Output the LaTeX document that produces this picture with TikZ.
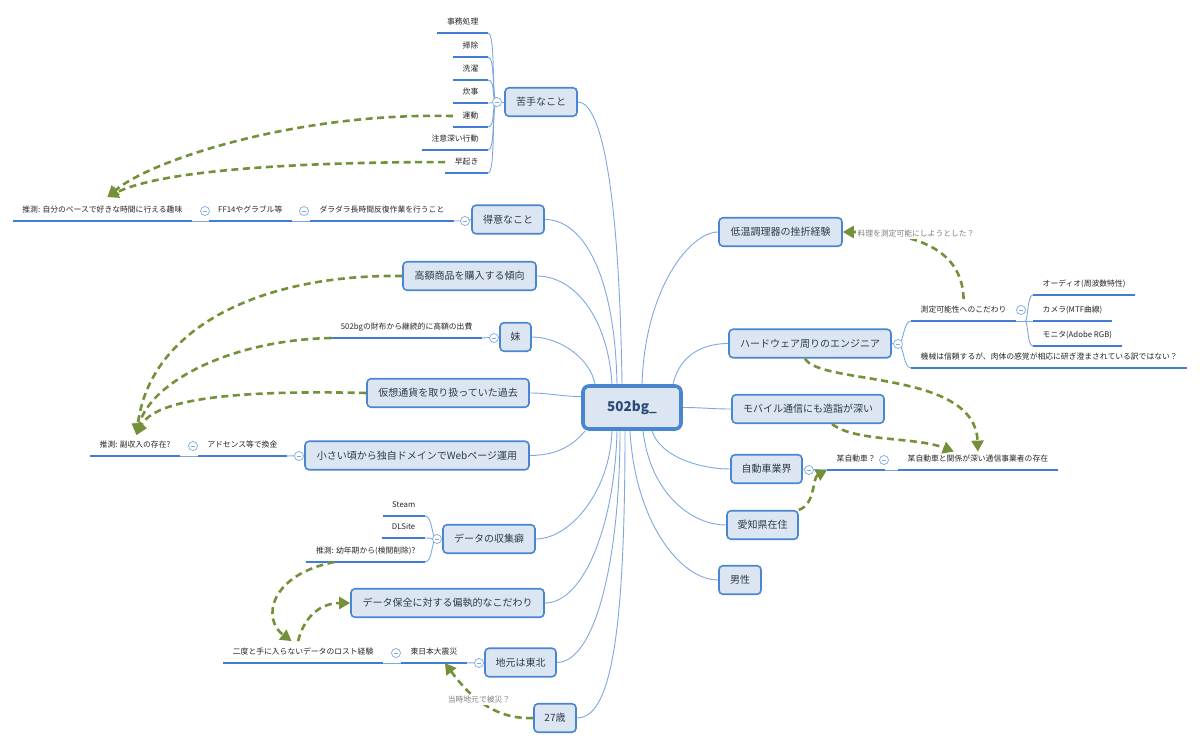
\documentclass[tikz,border=0pt]{standalone}
\usepackage{fontspec}
\setmainfont{Noto Sans CJK JP}
\usetikzlibrary{arrows.meta,backgrounds,calc}
\definecolor{boxfill}{HTML}{DCE6F2}
\definecolor{boxline}{HTML}{4A86CF}
\definecolor{connc}{HTML}{7DA9E0}
\definecolor{ulc}{HTML}{3F7ED4}
\definecolor{relc}{HTML}{74913A}
\definecolor{topictext}{HTML}{2E3B4E}
\definecolor{subtext}{HTML}{262626}
\definecolor{notetext}{HTML}{7F7F7F}
\definecolor{centertext}{HTML}{2A4A78}
\begin{document}
\begin{tikzpicture}[x=1pt,y=-1pt,
  topic/.style={draw=boxline, line width=1.6pt, fill=boxfill, rounded corners=4pt, minimum height=28.5pt, inner sep=2pt, text=topictext, font=\fontsize{10}{12}\selectfont},
  centre/.style={draw=boxline, line width=3.6pt, fill=boxfill, rounded corners=6pt, minimum width=98pt, minimum height=43pt, text=centertext, font=\fontsize{13.5}{16}\selectfont\bfseries},
  sub/.style={inner xsep=9.5pt, inner ysep=7pt, text height=6pt, text depth=1.5pt, text=subtext, font=\fontsize{7.8}{9}\selectfont},
  ul/.style={draw=ulc, line width=2.6pt},
  conn/.style={draw=connc, line width=0.9pt},
  collapse/.style={circle, draw=connc, fill=white, line width=0.7pt, minimum size=9pt, inner sep=0pt,
    path picture={\draw[connc, line width=0.7pt] ([xshift=-2.3pt]path picture bounding box.center) -- ([xshift=2.3pt]path picture bounding box.center);}},
  rel/.style={draw=relc, line width=2.6pt, dash pattern=on 7pt off 4.5pt, -{Triangle[length=11pt,width=12pt]}},
  note/.style={fill=white, inner sep=1.5pt, text=notetext, font=\fontsize{7.8}{9}\selectfont}
]
\useasboundingbox (0,0) rectangle (1200,749);
\begin{scope}[on background layer]
  \fill[white] (0,0) rectangle (1200,749);
\end{scope}

% central topic
\node[centre] (root) at (632,407.5) {502bg\_};

% main topics
\node[topic, minimum width=72pt] (nigate) at (541,102) {苦手なこと};
\node[topic, minimum width=72pt] (tokui) at (508,219.5) {得意なこと};
\node[topic, minimum width=133pt] (kougaku) at (469.5,276) {高額商品を購入する傾向};
\node[topic, minimum width=31pt] (imouto) at (515.5,337) {妹};
\node[topic, minimum width=162pt] (kasou) at (448,393) {仮想通貨を取り扱っていた過去};
\node[topic, minimum width=224pt] (webpage) at (417,455.5) {小さい頃から独自ドメインでWebページ運用};
\node[topic, minimum width=92pt] (shushu) at (489,539) {データの収集癖};
\node[topic, minimum width=193pt] (hozen) at (447.5,603) {データ保全に対する偏執的なこだわり};
\node[topic, minimum width=71pt] (jimoto) at (520.5,662.5) {地元は東北};
\node[topic, minimum width=42pt] (age) at (555,718) {27歳};
\node[topic, minimum width=123pt] (teion) at (780.5,232) {低温調理器の挫折経験};
\node[topic, minimum width=162pt] (hard) at (810,343.5) {ハードウェア周りのエンジニア};
\node[topic, minimum width=152pt] (mobile) at (808,409) {モバイル通信にも造詣が深い};
\node[topic, minimum width=71pt] (jidousha) at (766.5,469) {自動車業界};
\node[topic, minimum width=71pt] (aichi) at (762.5,525) {愛知県在住};
\node[topic, minimum width=42pt] (dansei) at (740,580) {男性};

% subtopics
\node[sub, anchor=south east] (jimu) at (488,33) {事務処理};
\node[sub, anchor=south east] (souji) at (488,57) {掃除};
\node[sub, anchor=south east] (sentaku) at (488,80) {洗濯};
\node[sub, anchor=south east] (suiji) at (488,103) {炊事};
\node[sub, anchor=south east] (undou) at (488,127) {運動};
\node[sub, anchor=south east] (chui) at (488,150) {注意深い行動};
\node[sub, anchor=south east] (hayaoki) at (488,173) {早起き};
\node[sub, anchor=south east] (darada) at (454,221) {ダラダラ長時間反復作業を行うこと};
\node[sub, anchor=south east] (ff) at (292,221) {FF14やグラブル等};
\node[sub, anchor=south east] (jibun) at (192,221) {推測: 自分のペースで好きな時間に行える趣味};
\node[sub, anchor=south east] (saifu) at (482,338) {502bgの財布から継続的に高額の出費};
\node[sub, anchor=south east] (adsense) at (287,456) {アドセンス等で換金};
\node[sub, anchor=south east] (fukushu) at (180,456) {推測: 副収入の存在?};
\node[sub, anchor=south east] (steam) at (425,516) {Steam};
\node[sub, anchor=south east] (dlsite) at (425,538) {DLSite};
\node[sub, anchor=south east] (youshou) at (425,562) {推測: 幼年期から(検閲削除)?};
\node[sub, anchor=south east] (shinsai) at (467,663) {東日本大震災};
\node[sub, anchor=south east] (lost) at (383,663) {二度と手に入らないデータのロスト経験};
\node[sub, anchor=south west] (sokutei) at (911,321) {測定可能性へのこだわり};
\node[sub, anchor=south west] (kikai) at (911,368) {機械は信頼するが、肉体の感覚が相応に研ぎ澄まされている訳ではない？};
\node[sub, anchor=south west] (audio) at (1033,295) {オーディオ(周波数特性)};
\node[sub, anchor=south west] (camera) at (1033,321) {カメラ(MTF曲線)};
\node[sub, anchor=south west] (monitor) at (1033,346) {モニタ(Adobe RGB)};
\node[sub, anchor=south west] (bouji) at (827,470) {某自動車？};
\node[sub, anchor=south west] (tsushin) at (898,470) {某自動車と関係が深い通信事業者の存在};

\foreach \n in {jimu,souji,sentaku,suiji,undou,chui,hayaoki,darada,ff,jibun,saifu,adsense,fukushu,steam,dlsite,youshou,shinsai,lost,sokutei,kikai,audio,camera,monitor,bouji,tsushin}
  \draw[ul] (\n.south west) -- (\n.south east);

% collapse buttons
\node[collapse] (k1) at (497,102) {};
\node[collapse] (k2) at (465,221) {};
\node[collapse] (k3) at (304,211) {};
\node[collapse] (k4) at (205,211) {};
\node[collapse] (k5) at (494,338) {};
\node[collapse] (k6) at (299,456) {};
\node[collapse] (k7) at (193,446) {};
\node[collapse] (k8) at (437,539) {};
\node[collapse] (k9) at (479,663) {};
\node[collapse] (k10) at (396,653) {};
\node[collapse] (k11) at (898,344) {};
\node[collapse] (k12) at (1021,310) {};
\node[collapse] (k13) at (809,470) {};
\node[collapse] (k14) at (884,460) {};
\coordinate (sk) at ([xshift=9pt]sokutei.south east);

% connectors
\begin{scope}[on background layer]
  % root to main topics
  \draw[conn] ([xshift=-10pt]root.north) .. controls +(-3,-206) and +(22,0) .. (nigate.east);
  \draw[conn] ([xshift=-15pt]root.north) .. controls +(-2,-106) and +(40,0) .. (tokui.east);
  \draw[conn] ([xshift=-20pt]root.north) .. controls +(-4,-66) and +(38,0) .. (kougaku.east);
  \draw[conn] ([xshift=-37pt]root.north) .. controls +(-5,-26) and +(28,0) .. (imouto.east);
  \draw[conn] ([yshift=11pt]root.west) .. controls +(-20,0) and +(20,0) .. (kasou.east);
  \draw[conn] ([xshift=4pt]root.south west) .. controls +(-10,12) and +(30,0) .. (webpage.east);
  \draw[conn] ([xshift=-20pt]root.south) .. controls +(-2,61) and +(34,0) .. (shushu.east);
  \draw[conn] ([xshift=-15pt]root.south) .. controls +(-2,91) and +(40,0) .. (hozen.east);
  \draw[conn] ([xshift=-12pt]root.south) .. controls +(0,131) and +(38,0) .. (jimoto.east);
  \draw[conn] ([xshift=-7pt]root.south) .. controls +(0,211) and +(33,0) .. (age.east);
  \draw[conn] ([xshift=10pt]root.north) .. controls +(3,-96) and +(-28,0) .. (teion.west);
  \draw[conn] ([xshift=41pt]root.north) .. controls +(7,-31) and +(-23,0) .. (hard.west);
  \draw[conn] (root.east) .. controls +(20,0) and +(-20,0) .. (mobile.west);
  \draw[conn] ([xshift=20pt]root.south) .. controls +(8,26) and +(-30,0) .. (jidousha.west);
  \draw[conn] ([xshift=11pt]root.south) .. controls +(7,61) and +(-36,0) .. (aichi.west);
  \draw[conn] ([xshift=-2pt]root.south) .. controls +(5,91) and +(-38,0) .. (dansei.west);
  % 苦手なこと
  \draw[conn] (nigate.west) -- (k1.center);
  \foreach \n in {jimu,souji,sentaku,suiji,undou,chui,hayaoki}
    \draw[conn] (k1.center) .. controls +(-6,0) and +(8,0) .. (\n.south east);
  % 得意なこと chain
  \draw[conn] (tokui.west) -- (k2.center) -- (darada.south east);
  \draw[conn] (darada.south west) -- (ff.south east);
  \draw[conn] (ff.south west) -- (jibun.south east);
  % 妹
  \draw[conn] (imouto.west) -- (saifu.south east);
  % web
  \draw[conn] (webpage.west) -- (adsense.south east);
  \draw[conn] (adsense.south west) -- (fukushu.south east);
  % 収集癖
  \draw[conn] (shushu.west) -- (k8.center);
  \foreach \n in {steam,dlsite,youshou}
    \draw[conn] (k8.center) .. controls +(-6,0) and +(8,0) .. (\n.south east);
  % 地元
  \draw[conn] (jimoto.west) -- (shinsai.south east);
  \draw[conn] (shinsai.south west) -- (lost.south east);
  % ハードウェア
  \draw[conn] (hard.east) -- (k11.center);
  \foreach \n in {sokutei,kikai}
    \draw[conn] (k11.center) .. controls +(6,0) and +(-8,0) .. (\n.south west);
  \draw[conn] (sokutei.south east) -- (camera.south west);
  \foreach \n in {audio,monitor}
    \draw[conn] (sk) .. controls +(3,0) and +(-6,0) .. (\n.south west);
  % 自動車
  \draw[conn] (jidousha.east) -- (bouji.south west);
  \draw[conn] (bouji.south east) -- (tsushin.south west);
\end{scope}

% relationships
\draw[rel] (undou.west) .. controls +(-153,-4) and +(45,-38) .. ([xshift=5pt,yshift=2pt]jibun.north);
\draw[rel] (hayaoki.west) .. controls +(-115,0) and +(60,-30) .. ([xshift=5pt,yshift=2pt]jibun.north);
\draw[rel] (kougaku.west) .. controls +(-142,-2) and +(13,-107) .. ([xshift=1.5pt,yshift=-1pt]fukushu.north);
\draw[rel] (saifu.south west) .. controls +(-102,2) and +(13,-52) .. ([xshift=1.5pt,yshift=-1pt]fukushu.north);
\draw[rel] (kasou.west) .. controls +(-127,-3) and +(18,-37) .. ([xshift=1.5pt,yshift=-1pt]fukushu.north);
\draw[rel] ([xshift=28pt]youshou.south west) .. controls +(-65,13) and +(-30,-22) .. ([xshift=-11.5pt]lost.north);
\draw[rel] ([xshift=-5pt]lost.north) .. controls +(6.5,-26.5) and +(-28,0) .. (hozen.west);
\draw[rel] (age.west) .. controls +(-43,2) and +(20,27) .. ([xshift=11pt]shinsai.south);
\draw[rel] ([xshift=-5pt]hard.south) .. controls +(15,27) and +(-2.7,-82) .. ([yshift=-3.5pt]tsushin.north);
\draw[rel] ([xshift=24pt]mobile.south) .. controls +(23,18) and +(-38.7,-15) .. ([xshift=-24pt,yshift=-3.5pt]tsushin.north);
\draw[rel] (aichi.north east) .. controls +(17,-6) and +(-15,8) .. (bouji.south west);
\draw[rel] (sokutei.north) .. controls +(-1,-44.5) and +(82,0) .. (teion.east);

% relationship labels
\node[note] (n1) at (916,234) {料理を測定可能にしようとした？};
\node[note] (n2) at (479,700) {当時地元で被災？};
\end{tikzpicture}
\end{document}
